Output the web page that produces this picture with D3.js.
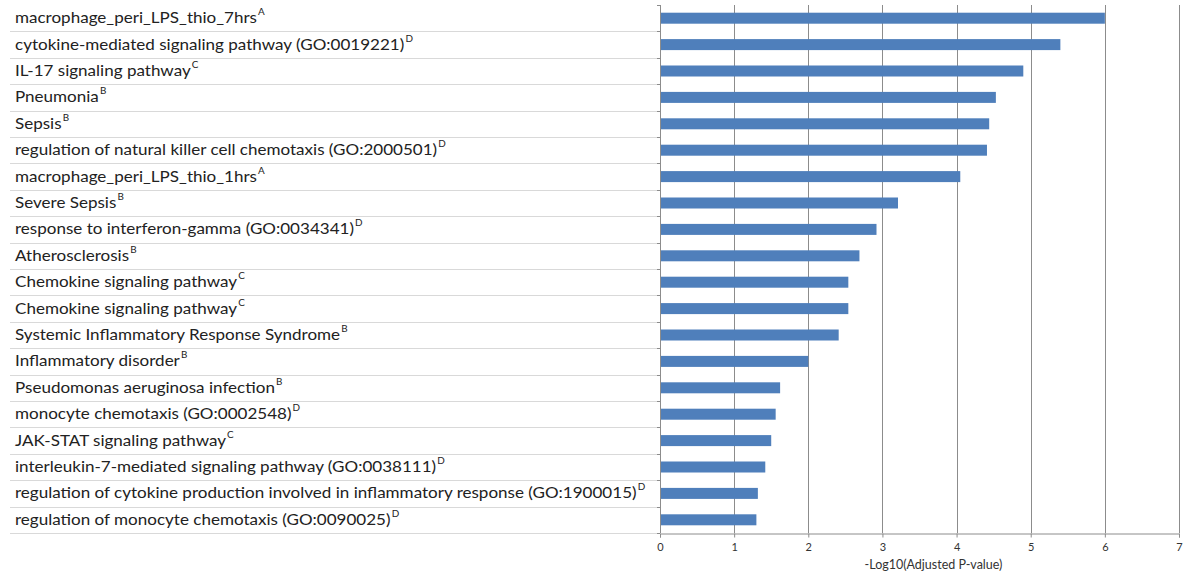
<!DOCTYPE html>
<html>
<head>
<meta charset="utf-8">
<script src="https://cdn.jsdelivr.net/npm/d3@7"></script>
<style>
  body { margin: 0; background: #fff; }
  svg { display: block; }
</style>
</head>
<body>
<div id="chart"></div>
<script>
// data, top row first
var terms = [
  "macrophage_peri_LPS_thio_7hrs",
  "cytokine-mediated signaling pathway (GO:0019221)",
  "IL-17 signaling pathway",
  "Pneumonia",
  "Sepsis",
  "regulation of natural killer cell chemotaxis (GO:2000501)",
  "macrophage_peri_LPS_thio_1hrs",
  "Severe Sepsis",
  "response to interferon-gamma (GO:0034341)",
  "Atherosclerosis",
  "Chemokine signaling pathway",
  "Chemokine signaling pathway",
  "Systemic Inflammatory Response Syndrome",
  "Inflammatory disorder",
  "Pseudomonas aeruginosa infection",
  "monocyte chemotaxis (GO:0002548)",
  "JAK-STAT signaling pathway",
  "interleukin-7-mediated signaling pathway (GO:0038111)",
  "regulation of cytokine production involved in inflammatory response (GO:1900015)",
  "regulation of monocyte chemotaxis (GO:0090025)"
];
var sources = ["A","D","C","B","B","D","A","B","D","B","C","C","B","B","B","D","C","D","D","D"];
var values = [6.0, 5.40, 4.90, 4.53, 4.44, 4.41, 4.05, 3.21, 2.92, 2.69, 2.54, 2.54, 2.41, 2.0, 1.62, 1.56, 1.50, 1.42, 1.32, 1.30];
var xTicks = [0, 1, 2, 3, 4, 5, 6, 7];
var xTitle = "-Log10(Adjusted P-value)";

var W = 1187, H = 573;
var svg = d3.select("#chart").append("svg")
    .attr("width", W)
    .attr("height", H);

var idx = d3.range(terms.length);

var x = d3.scaleLinear().domain([0, 7]).range([660, 1179]);
var y = d3.scaleBand().domain(idx).range([5, 533]).paddingInner(0).paddingOuter(0);

function edge(d) {
  return Math.round(d === terms.length ? y.range()[1] : y(d)) + 0.5;
}

// separators between category labels
svg.append("g")
  .selectAll("line")
  .data(idx.slice(1).concat([terms.length]))
  .enter().append("line")
    .attr("x1", 10)
    .attr("x2", x(0))
    .attr("y1", edge)
    .attr("y2", edge)
    .attr("stroke", "#d9d9d9")
    .attr("stroke-width", 1);

// vertical gridlines
svg.append("g")
  .selectAll("line")
  .data(xTicks.slice(1))
  .enter().append("line")
    .attr("x1", function(d) { return Math.round(x(d)) + 0.5; })
    .attr("x2", function(d) { return Math.round(x(d)) + 0.5; })
    .attr("y1", y.range()[0])
    .attr("y2", y.range()[1])
    .attr("stroke", "#8c8c8c")
    .attr("stroke-width", 1);

// bars
svg.append("g")
  .selectAll("rect")
  .data(idx)
  .enter().append("rect")
    .attr("x", x(0))
    .attr("y", function(d) { return y(d) + y.bandwidth() / 2 - 5.5; })
    .attr("width", function(d) { return x(values[d]) - x(0); })
    .attr("height", 11)
    .attr("fill", "#4f7fbb");

// left axis line with small ticks
svg.append("line")
  .attr("x1", Math.round(x(0)) + 0.5).attr("x2", Math.round(x(0)) + 0.5)
  .attr("y1", y.range()[0]).attr("y2", y.range()[1])
  .attr("stroke", "#8c8c8c");
svg.append("g")
  .selectAll("line")
  .data(idx.concat([terms.length]))
  .enter().append("line")
    .attr("x1", x(0) - 3)
    .attr("x2", x(0))
    .attr("y1", edge)
    .attr("y2", edge)
    .attr("stroke", "#8c8c8c");

// bottom axis
var xAxis = svg.append("g")
  .attr("transform", "translate(0," + (y.range()[1] + 0.5) + ")")
  .call(d3.axisBottom(x).tickValues(xTicks).tickSize(4).tickPadding(6).tickFormat(d3.format("d")));
xAxis.select(".domain").attr("stroke", "#8c8c8c");
xAxis.selectAll(".tick line").attr("stroke", "#8c8c8c");
xAxis.selectAll("text")
  .attr("font-family", "Lato, sans-serif")
  .attr("font-size", 11)
  .attr("fill", "#333");

svg.append("text")
  .attr("x", (x(0) + x(7)) / 2 + 14)
  .attr("y", 569)
  .attr("text-anchor", "middle")
  .attr("font-family", "Lato, sans-serif")
  .attr("font-size", 12.5)
  .attr("fill", "#333")
  .text(xTitle);

// category labels with superscript source letters
var labels = svg.append("g");
var lab = labels.selectAll("text")
  .data(idx)
  .enter().append("text")
    .attr("x", 0)
    .attr("y", function(d) { return y(d) + y.bandwidth() / 2 + 5; })
    .attr("font-family", "Lato, 'Open Sans', sans-serif")
    .attr("font-size", 15.5)
    .attr("fill", "#222");
lab.append("tspan").text(function(d) { return terms[d]; });
lab.append("tspan")
  .attr("font-size", 9)
  .attr("dy", -8)
  .attr("dx", 1)
  .text(function(d) { return sources[d]; });

// squeeze labels horizontally to match the narrow original face
var longest = lab.filter(function(d) { return d === 18; }).select("tspan").node();
var sx = 622 / longest.getComputedTextLength();
labels.attr("transform", "translate(15,0) scale(" + sx + ",1)");
</script>
</body>
</html>
